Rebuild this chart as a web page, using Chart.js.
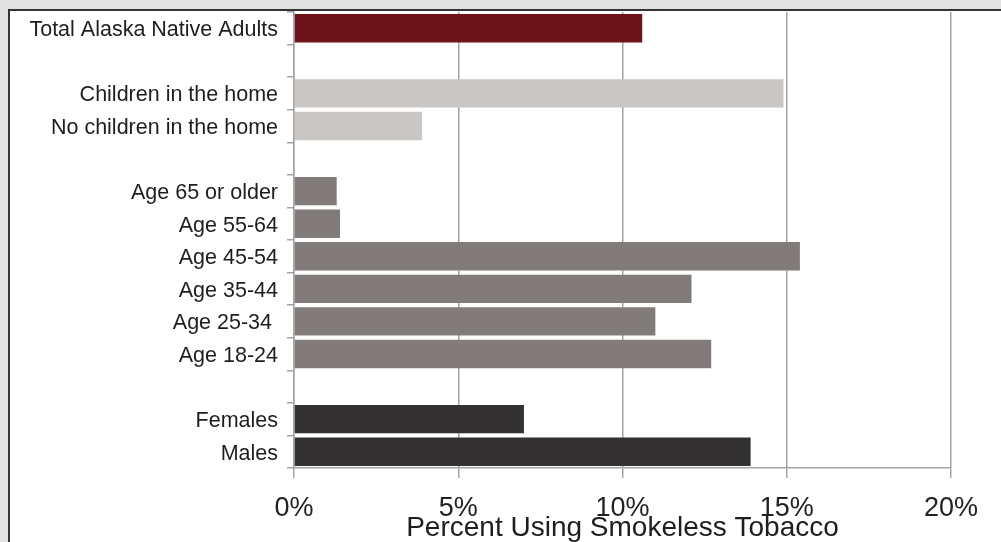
<!DOCTYPE html>
<html>
<head>
<meta charset="utf-8">
<script src="https://cdn.jsdelivr.net/npm/chart.js@4.4.1/dist/chart.umd.min.js"></script>
<style>
  html, body { margin: 0; padding: 0; }
  body { width: 1001px; height: 542px; background: #e1e1e1; position: relative; overflow: hidden; }
  #panel { position: absolute; left: 8px; top: 9px; width: 1000px; height: 540px;
           background: #fff; border-left: 2px solid #333; border-top: 2px solid #333; }
  #reportChart { position: absolute; left: 0; top: 0; filter: blur(0.4px); }
</style>
</head>
<body>
<div id="panel"></div>
<canvas id="reportChart" width="1001" height="542"></canvas>
<script>
// rows, top to bottom; empty strings are the spacer rows between groups
const categories = [
  "Total Alaska Native Adults", "",
  "Children in the home", "No children in the home", "",
  "Age 65 or older", "Age 55-64", "Age 45-54", "Age 35-44", "Age 25-34 ", "Age 18-24", "",
  "Females", "Males"
];
// percent using smokeless tobacco
const values = [10.6, null, 14.9, 3.9, null, 1.3, 1.4, 15.4, 12.1, 11.0, 12.7, null, 7.0, 13.9];
const xTicks = [0, 5, 10, 15, 20];

// colours per row (style only)
const barColors = [
  "#6b121b", null,
  "#c9c6c4", "#c9c6c4", null,
  "#817c7a", "#817c7a", "#817c7a", "#817c7a", "#817c7a", "#817c7a", null,
  "#333132", "#333132"
];

const axisGray = "#a3a3a3";
const fontFamily = "Liberation Sans, Arial, sans-serif";

let chartCtx = document.getElementById("reportChart").getContext("2d");
let chart = new Chart(chartCtx, {
  type: "bar",
  data: {
    labels: categories,
    datasets: [{
      data: values,
      backgroundColor: barColors,
      barPercentage: 0.87,
      categoryPercentage: 1
    }]
  },
  options: {
    indexAxis: "y",
    responsive: false,
    animation: false,
    devicePixelRatio: 1,
    layout: { padding: { top: 12, right: 50, bottom: 0, left: 0 } },
    plugins: { legend: { display: false }, tooltip: { enabled: false } },
    scales: {
      x: {
        min: 0,
        max: 20,
        afterFit: s => { s.height = 74; },
        afterBuildTicks: s => { s.ticks = xTicks.map(v => ({ value: v })); },
        grid: { color: axisGray, lineWidth: 1.5, tickLength: 10 },
        border: { color: axisGray, width: 1.5 },
        ticks: {
          padding: 14,
          color: "#222",
          font: { family: fontFamily, size: 27, lineHeight: 1.2 },
          callback: v => v + "%"
        },
        title: {
          display: true,
          text: "Percent Using Smokeless Tobacco",
          color: "#1e1e1e",
          padding: { top: 0, bottom: 0 },
          font: { family: fontFamily, size: 28, lineHeight: 1 }
        }
      },
      y: {
        afterFit: s => { s.width = 294; s.paddingTop = 0; s.paddingBottom = 0; },
        grid: { drawOnChartArea: false, color: axisGray, lineWidth: 1.5, tickLength: 7, offset: true },
        border: { color: axisGray, width: 1.5 },
        ticks: {
          padding: 9,
          labelOffset: 2,
          color: "#1e1e1e",
          autoSkip: false,
          font: { family: fontFamily, size: 21.5 }
        }
      }
    }
  }
});
</script>
</body>
</html>
